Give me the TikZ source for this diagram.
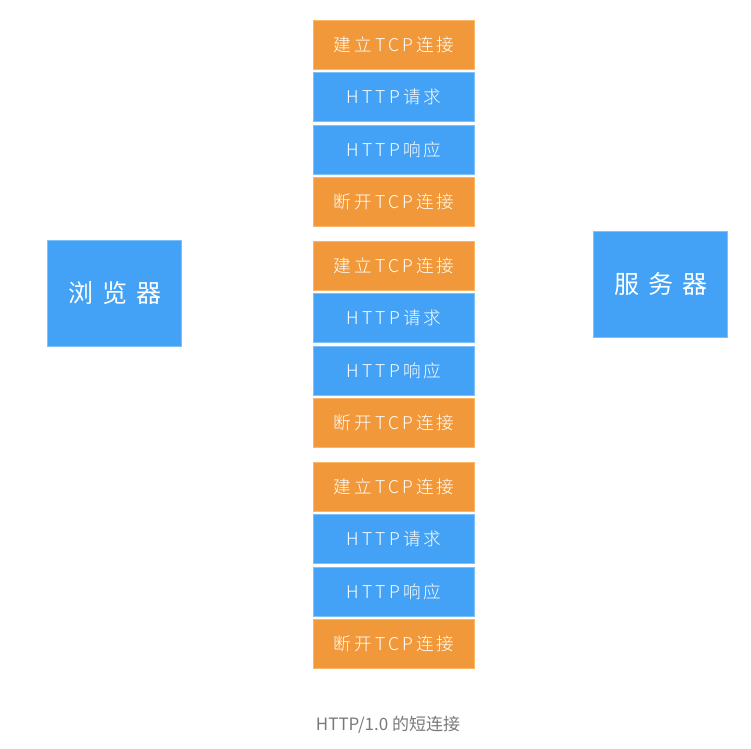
\documentclass[tikz,border=0pt]{standalone}
\usepackage{fontspec}
\newfontfamily\cjk{Noto Sans CJK SC}
\newfontfamily\cjkwide[LetterSpace=18]{Noto Sans CJK SC Light}
\newfontfamily\cjkbig[LetterSpace=36]{Noto Sans CJK SC}
\definecolor{orangebox}{HTML}{F1993A}
\definecolor{orangeedge}{HTML}{FBB668}
\definecolor{bluebox}{HTML}{43A2F5}
\definecolor{blueedge}{HTML}{7DC0FA}
\definecolor{captiongray}{HTML}{7A7A7A}
\tikzset{
  x=1pt,y=-1pt,
  stepbox/.style={draw=#1edge, fill=#1box, line width=0.8pt, minimum width=161pt, minimum height=49pt,
    inner sep=0pt, text=white, font=\cjkwide\fontsize{17.6}{17.6}\selectfont},
  bigbox/.style={draw=blueedge, fill=bluebox, line width=0.8pt, minimum width=134pt, minimum height=106pt,
    inner sep=0pt, text=white, font=\cjkbig\fontsize{25}{25}\selectfont},
}
\begin{document}
\begin{tikzpicture}
\useasboundingbox (0,0) rectangle (751,748);
\fill[white] (0,0) rectangle (751,748);
\node[bigbox] (browser) at (114.5,293.5) {\raisebox{-3pt}{浏览器}};
\node[bigbox] (server) at (660.5,284) {\raisebox{-3pt}{服务器}};
\foreach \g/\y in {1/19.5, 2/240.5, 3/461.5} {
  \node[stepbox=orange] (open\g) at (394,\y+25) {建立TCP连接};
  \node[stepbox=blue] (req\g) at (394,\y+25+52.5) {HTTP请求};
  \node[stepbox=blue] (resp\g) at (394,\y+25+105) {HTTP响应};
  \node[stepbox=orange] (close\g) at (394,\y+25+157.5) {断开TCP连接};
}
\node[text=captiongray, font=\cjk\fontsize{17}{17}\selectfont] (caption) at (388,725) {HTTP/1.0 的短连接};
\end{tikzpicture}
\end{document}
